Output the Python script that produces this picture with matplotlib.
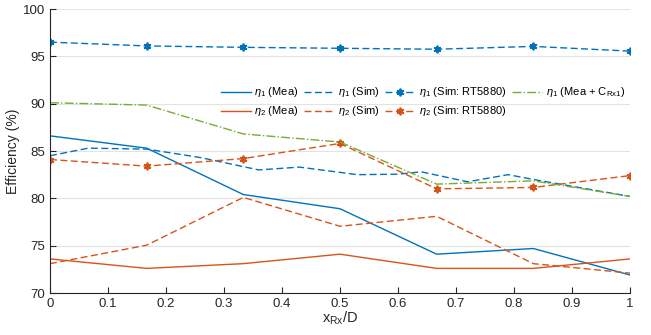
import numpy as np
import matplotlib
matplotlib.use("Agg")
import matplotlib.pyplot as plt
from matplotlib.ticker import FormatStrFormatter

plt.rcParams['font.family'] = ['Liberation Sans', 'DejaVu Sans']
plt.rcParams['mathtext.fontset'] = 'custom'
plt.rcParams['mathtext.rm'] = 'Liberation Sans'
plt.rcParams['mathtext.it'] = 'Liberation Sans:italic'

# x positions (x_Rx / D)
x = [0, 1/6, 1/3, 1/2, 2/3, 5/6, 1]

eta1_mea = [86.6, 85.3, 80.4, 78.9, 74.1, 74.7, 71.9]
eta2_mea = [73.6, 72.6, 73.1, 74.1, 72.6, 72.6, 73.6]

eta1_sim_x = [0, 0.066, 0.167, 0.26, 0.36, 0.43, 0.53, 0.6, 0.64, 0.72, 0.79, 0.833, 1]
eta1_sim = [84.5, 85.3, 85.2, 84.3, 83.0, 83.3, 82.5, 82.55, 82.8, 81.75, 82.5, 82.0, 80.2]
eta2_sim = [73.1, 75.05, 80.1, 77.05, 78.1, 73.1, 72.1]

eta1_rt = [96.5, 96.1, 95.95, 95.85, 95.75, 96.05, 95.55]
eta2_rt = [84.1, 83.4, 84.2, 85.8, 81.0, 81.15, 82.4]

eta1_mea_c = [90.1, 89.85, 86.8, 85.95, 81.5, 81.85, 80.2]

blue = '#0072BD'
orange = '#D95319'
green = '#77AC30'
dash = (5, 2.5)
star = (6, 2, 0)

fig = plt.figure(figsize=(6.51, 3.35), dpi=100)
ax = fig.add_axes([50/651, 1-293/335, 580/651, 284/335])

h1, = ax.plot(x, eta1_mea, color=blue, lw=1.0, label=r'$\eta_1$ (Mea)')
h2, = ax.plot(x, eta2_mea, color=orange, lw=1.0, label=r'$\eta_2$ (Mea)')
h3, = ax.plot(eta1_sim_x, eta1_sim, color=blue, lw=1.0, dashes=dash, label=r'$\eta_1$ (Sim)')
h4, = ax.plot(x, eta2_sim, color=orange, lw=1.0, dashes=dash, label=r'$\eta_2$ (Sim)')
h5, = ax.plot(x, eta1_rt, color=blue, lw=1.0, dashes=dash, marker=star, ms=5.5, mew=1.3,
              label=r'$\eta_1$ (Sim: RT5880)')
h6, = ax.plot(x, eta2_rt, color=orange, lw=1.0, dashes=dash, marker=star, ms=5.5, mew=1.3,
              label=r'$\eta_2$ (Sim: RT5880)')
h7, = ax.plot(x, eta1_mea_c, color=green, lw=1.0, linestyle='-.',
              label=r'$\eta_1$ (Mea + $\mathregular{C_{Rx1}}$)')

ax.set_xlim(0, 1)
ax.set_ylim(70, 100)
ax.set_xticks(np.arange(0, 1.01, 0.1))
ax.set_yticks(range(70, 101, 5))
ax.xaxis.set_major_formatter(FormatStrFormatter('%g'))
ax.tick_params(direction='in', length=4, width=0.8, colors='#262626', labelsize=9.5)
ax.yaxis.grid(True, color='#e3e3e3', lw=0.8)
ax.set_axisbelow(True)
for s in ['top', 'right']:
    ax.spines[s].set_visible(False)
for s in ['left', 'bottom']:
    ax.spines[s].set_color('#262626')
    ax.spines[s].set_linewidth(0.8)

ax.set_ylabel('Efficiency (%)', fontsize=10, color='#262626', labelpad=2)
ax.set_xlabel(r'$\mathregular{x_{Rx}/D}$', fontsize=10.5, color='#262626', labelpad=0)

ax.legend(handles=[h1, h2, h3, h4, h5, h6, h7], ncol=4, frameon=False,
          loc='upper left', bbox_to_anchor=(0.294, 0.731), borderaxespad=0,
          borderpad=0, fontsize=8, handlelength=2.7, handletextpad=0.3,
          columnspacing=0.55, labelspacing=0.45)

fig.savefig('out.png', dpi=100)
